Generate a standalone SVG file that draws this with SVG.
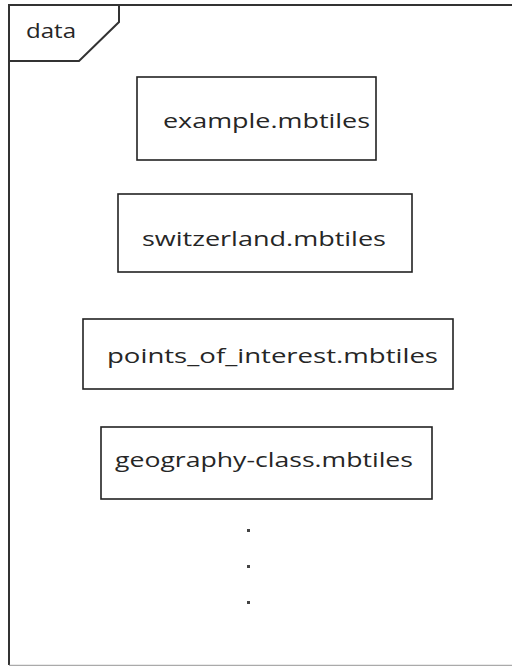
<svg xmlns="http://www.w3.org/2000/svg" width="512" height="666" viewBox="0 0 512 666">
<style>
.frame{fill:none;stroke:#333;stroke-width:2}
.box{fill:#fff;stroke:#222;stroke-width:1.6}
.lbl{font-family:"Open Sans","Noto Sans",sans-serif;font-size:20px;fill:#262626}
.dot{fill:#444}
</style>
<rect width="512" height="666" fill="#fff"/>
<g id="frame">
<path class="frame" d="M9,665 V5 H513"/>
<line x1="9" y1="665.5" x2="512" y2="665.5" stroke="#aaa" stroke-width="1.5"/>
<path class="frame" d="M9,61 H79 L119,22 V5"/>
<text class="lbl" x="26" y="38" textLength="50" lengthAdjust="spacingAndGlyphs">data</text>
</g>
<g id="connectors"></g>
<g id="example">
<rect class="box" x="137" y="77" width="239" height="83"/>
<text class="lbl" x="163" y="128" textLength="207" lengthAdjust="spacingAndGlyphs">example.mbtiles</text>
</g>
<g id="switzerland">
<rect class="box" x="118" y="194" width="294" height="78"/>
<text class="lbl" x="142" y="246" textLength="244" lengthAdjust="spacingAndGlyphs">switzerland.mbtiles</text>
</g>
<g id="points_of_interest">
<rect class="box" x="83" y="319" width="370" height="70"/>
<text class="lbl" x="107" y="363" textLength="331" lengthAdjust="spacingAndGlyphs">points_of_interest.mbtiles</text>
</g>
<g id="geography-class">
<rect class="box" x="101" y="427" width="331" height="72"/>
<text class="lbl" x="115" y="467" textLength="298" lengthAdjust="spacingAndGlyphs">geography-class.mbtiles</text>
</g>
<g id="ellipsis">
<rect class="dot" x="247" y="529" width="3" height="3"/>
<rect class="dot" x="247" y="565" width="3" height="3"/>
<rect class="dot" x="247" y="601" width="3" height="3"/>
</g>
</svg>
